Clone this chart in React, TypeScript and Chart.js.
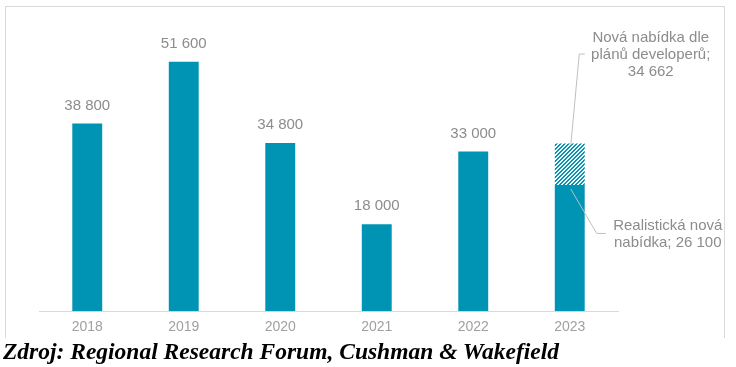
import React, { useEffect, useRef } from "react";
import { Chart, registerables } from "chart.js";

Chart.register(...registerables);

const years = ["2018", "2019", "2020", "2021", "2022", "2023"];
const realistic = [38800, 51600, 34800, 18000, 33000, 26100];
const planned = [null, null, null, null, null, 34662];
const valueLabels = ["38 800", "51 600", "34 800", "18 000", "33 000", ""];
const plannedLabel = ["Nová nabídka dle", "plánů developerů;", "34 662"];
const realisticLabel = ["Realistická nová", "nabídka; 26 100"];
const caption = "Zdroj: Regional Research Forum, Cushman & Wakefield";

const TEAL = "#0094B4";
const FONT = "'Liberation Sans', Arial, sans-serif";

function makePattern(): CanvasPattern | string {
  const c = document.createElement("canvas");
  c.width = 4;
  c.height = 4;
  const ctx = c.getContext("2d");
  if (!ctx) return TEAL;
  const img = ctx.createImageData(4, 4);
  for (let y = 0; y < 4; y++) {
    for (let x = 0; x < 4; x++) {
      const i = (y * 4 + x) * 4;
      const on = (x + y) % 4 < 2;
      img.data[i] = on ? 0 : 255;
      img.data[i + 1] = on ? 148 : 255;
      img.data[i + 2] = on ? 180 : 255;
      img.data[i + 3] = 255;
    }
  }
  ctx.putImageData(img, 0, 0);
  const p = ctx.createPattern(c, "repeat");
  return p || TEAL;
}

export default function App() {
  const ref = useRef<HTMLCanvasElement | null>(null);

  useEffect(() => {
    document.body.style.margin = "0";
    const canvas = ref.current;
    if (!canvas) return;
    const pattern = makePattern();
    const extra = planned.map((p, i) => (p == null ? null : p - realistic[i]));

    const labelPlugin = {
      id: "labels",
      afterDatasetsDraw(chart: any) {
        const ctx = chart.ctx;
        const x = chart.scales.x;
        const y = chart.scales.y;
        ctx.save();
        ctx.font = `15px ${FONT}`;
        ctx.fillStyle = "#8C8C8C";
        ctx.textAlign = "center";
        ctx.textBaseline = "middle";
        valueLabels.forEach((t, i) => {
          if (!t) return;
          ctx.fillText(t, x.getPixelForValue(i), y.getPixelForValue(realistic[i]) - 18);
        });
        // 2023 annotations
        const cx = x.getPixelForValue(5);
        const topPlanned = y.getPixelForValue(planned[5] as number);
        const topReal = y.getPixelForValue(realistic[5]);
        ctx.strokeStyle = "#BFBFBF";
        ctx.lineWidth = 1;
        ctx.beginPath();
        ctx.moveTo(cx + 1, topPlanned + 2);
        ctx.lineTo(cx + 9.5, topPlanned - 89.5);
        ctx.lineTo(cx + 15, topPlanned - 89.5);
        ctx.stroke();
        ctx.beginPath();
        ctx.moveTo(cx + 1, topReal + 4);
        ctx.lineTo(cx + 27, topReal + 48.5);
        ctx.lineTo(cx + 36, topReal + 48.5);
        ctx.stroke();
        ctx.fillStyle = "#8C8C8C";
        plannedLabel.forEach((t, k) => {
          ctx.fillText(t, cx + 81, topPlanned - 106 + k * 17);
        });
        realisticLabel.forEach((t, k) => {
          ctx.fillText(t, cx + 98, topReal + 41 + k * 17);
        });
        ctx.restore();
      },
    };

    const chart = new Chart(canvas, {
      type: "bar",
      data: {
        labels: years,
        datasets: [
          {
            label: "Realistická nová nabídka",
            data: realistic,
            backgroundColor: TEAL,
            categoryPercentage: 1,
            barPercentage: 0.31,
            stack: "s",
          },
          {
            label: "Nová nabídka dle plánů developerů",
            data: extra,
            backgroundColor: pattern as any,
            categoryPercentage: 1,
            barPercentage: 0.31,
            stack: "s",
          },
        ],
      },
      options: {
        responsive: false,
        animation: false,
        devicePixelRatio: 1,
        layout: { padding: { left: 34, right: 107, top: 15, bottom: 3 } },
        plugins: {
          legend: { display: false },
          tooltip: { enabled: false },
        },
        scales: {
          x: {
            stacked: true,
            grid: { display: false, drawTicks: false },
            border: { display: true, color: "#D9D9D9", width: 1 },
            ticks: {
              color: "#A0A0A0",
              font: { family: FONT, size: 14 },
              padding: 8,
            },
          },
          y: {
            stacked: true,
            display: false,
            min: 0,
            max: 60000,
          },
        },
      },
      plugins: [labelPlugin],
    });
    return () => chart.destroy();
  }, []);

  return (
    <div style={{ position: "relative", width: 736, height: 367, background: "#fff" }}>
      <div
        style={{
          position: "absolute",
          left: 5,
          top: 6,
          width: 720,
          height: 332,
          boxSizing: "border-box",
          border: "1px solid #D9D9D9",
          borderBottom: "none",
        }}
      />
      <canvas
        ref={ref}
        width={720}
        height={341}
        style={{ position: "absolute", left: 5, top: 6, width: 720, height: 341 }}
      />
      <div
        style={{
          position: "absolute",
          left: 3,
          top: 337,
          fontFamily: "'Liberation Serif', 'Times New Roman', serif",
          fontWeight: "bold",
          fontStyle: "italic",
          fontSize: 23.5,
          lineHeight: "28px",
          color: "#000",
          whiteSpace: "nowrap",
        }}
      >
        {caption}
      </div>
    </div>
  );
}
